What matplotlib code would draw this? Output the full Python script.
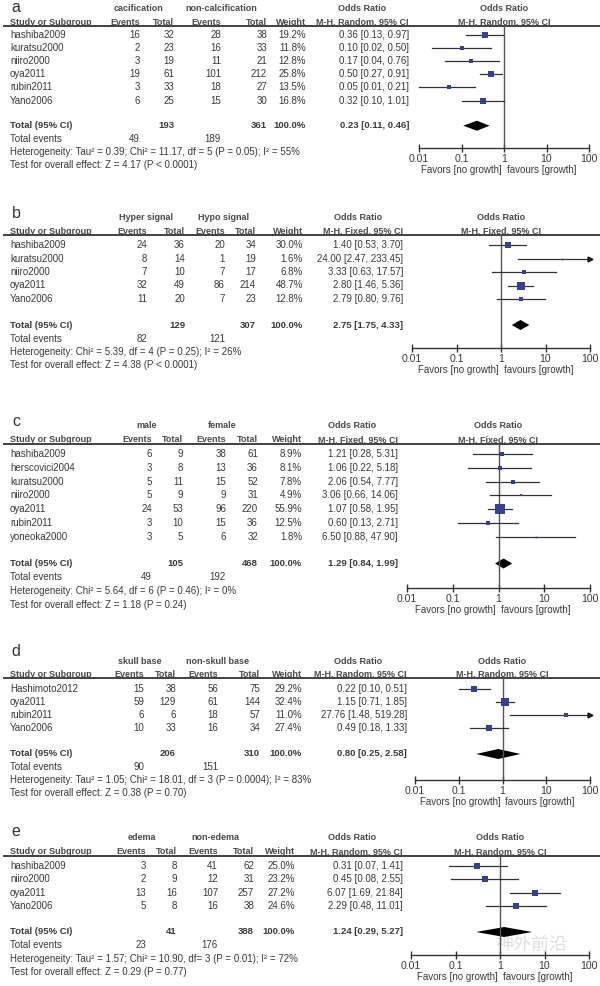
import matplotlib
matplotlib.use('Agg')
import matplotlib.pyplot as plt
import matplotlib.transforms as mtransforms

plt.rcParams['font.family'] = ['Liberation Sans', 'DejaVu Sans']

# ---- panel a: calcification ----
a_groups = ['cacification', 'non-calcification']
a_method = 'M-H, Random, 95% CI'
a_studies = ['hashiba2009', 'kuratsu2000', 'niiro2000', 'oya2011', 'rubin2011', 'Yano2006']
a_ev1 = [16, 2, 3, 19, 3, 6]
a_tot1 = [32, 23, 19, 61, 33, 25]
a_ev2 = [28, 16, 11, 101, 18, 15]
a_tot2 = [38, 33, 21, 212, 27, 30]
a_weight = [19.2, 11.8, 12.8, 25.8, 13.5, 16.8]
a_or = [0.36, 0.10, 0.17, 0.50, 0.05, 0.32]
a_lo = [0.13, 0.02, 0.04, 0.27, 0.01, 0.10]
a_hi = [0.97, 0.50, 0.76, 0.91, 0.21, 1.01]
a_total = [193, 361, 0.23, 0.11, 0.46]
a_events = [49, 189]
a_het = 'Heterogeneity: Tau\u00b2 = 0.39; Chi\u00b2 = 11.17, df = 5 (P = 0.05); I\u00b2 = 55%'
a_test = 'Test for overall effect: Z = 4.17 (P < 0.0001)'

# ---- panel b: signal ----
b_groups = ['Hyper signal', 'Hypo signal']
b_method = 'M-H, Fixed, 95% CI'
b_studies = ['hashiba2009', 'kuratsu2000', 'niiro2000', 'oya2011', 'Yano2006']
b_ev1 = [24, 8, 7, 32, 11]
b_tot1 = [36, 14, 10, 49, 20]
b_ev2 = [20, 1, 7, 86, 7]
b_tot2 = [34, 19, 17, 214, 23]
b_weight = [30.0, 1.6, 6.8, 48.7, 12.8]
b_or = [1.40, 24.00, 3.33, 2.80, 2.79]
b_lo = [0.53, 2.47, 0.63, 1.46, 0.80]
b_hi = [3.70, 233.45, 17.57, 5.36, 9.76]
b_total = [129, 307, 2.75, 1.75, 4.33]
b_events = [82, 121]
b_het = 'Heterogeneity: Chi\u00b2 = 5.39, df = 4 (P = 0.25); I\u00b2 = 26%'
b_test = 'Test for overall effect: Z = 4.38 (P < 0.0001)'

# ---- panel c: sex ----
c_groups = ['male', 'female']
c_method = 'M-H, Fixed, 95% CI'
c_studies = ['hashiba2009', 'herscovici2004', 'kuratsu2000', 'niiro2000', 'oya2011',
             'rubin2011', 'yoneoka2000']
c_ev1 = [6, 3, 5, 5, 24, 3, 3]
c_tot1 = [9, 8, 11, 9, 53, 10, 5]
c_ev2 = [38, 13, 15, 9, 96, 15, 6]
c_tot2 = [61, 36, 52, 31, 220, 36, 32]
c_weight = [8.9, 8.1, 7.8, 4.9, 55.9, 12.5, 1.8]
c_or = [1.21, 1.06, 2.06, 3.06, 1.07, 0.60, 6.50]
c_lo = [0.28, 0.22, 0.54, 0.66, 0.58, 0.13, 0.88]
c_hi = [5.31, 5.18, 7.77, 14.06, 1.95, 2.71, 47.90]
c_total = [105, 468, 1.29, 0.84, 1.99]
c_events = [49, 192]
c_het = 'Heterogeneity: Chi\u00b2 = 5.64, df = 6 (P = 0.46); I\u00b2 = 0%'
c_test = 'Test for overall effect: Z = 1.18 (P = 0.24)'

# ---- panel d: location ----
d_groups = ['skull base', 'non-skull base']
d_method = 'M-H, Random, 95% CI'
d_studies = ['Hashimoto2012', 'oya2011', 'rubin2011', 'Yano2006']
d_ev1 = [15, 59, 6, 10]
d_tot1 = [38, 129, 6, 33]
d_ev2 = [56, 61, 18, 16]
d_tot2 = [75, 144, 57, 34]
d_weight = [29.2, 32.4, 11.0, 27.4]
d_or = [0.22, 1.15, 27.76, 0.49]
d_lo = [0.10, 0.71, 1.48, 0.18]
d_hi = [0.51, 1.85, 519.28, 1.33]
d_total = [206, 310, 0.80, 0.25, 2.58]
d_events = [90, 151]
d_het = 'Heterogeneity: Tau\u00b2 = 1.05; Chi\u00b2 = 18.01, df = 3 (P = 0.0004); I\u00b2 = 83%'
d_test = 'Test for overall effect: Z = 0.38 (P = 0.70)'

# ---- panel e: edema ----
e_groups = ['edema', 'non-edema']
e_method = 'M-H, Random, 95% CI'
e_studies = ['hashiba2009', 'niiro2000', 'oya2011', 'Yano2006']
e_ev1 = [3, 2, 13, 5]
e_tot1 = [8, 9, 16, 8]
e_ev2 = [41, 12, 107, 16]
e_tot2 = [62, 31, 257, 38]
e_weight = [25.0, 23.2, 27.2, 24.6]
e_or = [0.31, 0.45, 6.07, 2.29]
e_lo = [0.07, 0.08, 1.69, 0.48]
e_hi = [1.41, 2.55, 21.84, 11.01]
e_total = [41, 388, 1.24, 0.29, 5.27]
e_events = [23, 176]
e_het = 'Heterogeneity: Tau\u00b2 = 1.57; Chi\u00b2 = 10.90, df= 3 (P = 0.01); I\u00b2 = 72%'
e_test = 'Test for overall effect: Z = 0.29 (P = 0.77)'

ticks = [0.01, 0.1, 1, 10, 100]
tick_labels = ['0.01', '0.1', '1', '10', '100']

W, H = 600, 986
fig = plt.figure(figsize=(6, 9.86), dpi=100)
ax = fig.add_axes([0, 0, 1, 1])
ax.set_xlim(0, W)
ax.set_ylim(H, 0)
ax.axis('off')

TXT = '#3a3a3a'
HDR = '#4a4a4a'
BLUE = '#35408f'
FS = 7.0     # body text
FSH = 6.5    # bold headers
FST = 6.8    # bold total row


def panel(label, lab, groups, method, studies, ev1, tot1, ev2, tot2, weight,
          orr, lo, hi, total, events, het, test, cols, rows, fx):
    c_ev1, c_tot1, c_ev2, c_tot2, c_w, c_or, g1, g2, orh = cols
    y_hdr, y_col, y_line, y0, dy, y_tot, y_axis = rows

    ax.text(lab[0], lab[1], label, fontsize=11.5, color='#333', va='center', ha='left')

    # header
    hk = dict(fontsize=FSH, color=HDR, weight='bold', va='center')
    ax.text(g1, y_hdr, groups[0], ha='center', **hk)
    ax.text(g2, y_hdr, groups[1], ha='center', **hk)
    ax.text(orh, y_hdr, 'Odds Ratio', ha='center', **hk)
    ax.text(10, y_col, 'Study or Subgroup', **hk)
    for x, s in zip([c_ev1, c_tot1, c_ev2, c_tot2, c_w, c_or],
                    ['Events', 'Total', 'Events', 'Total', 'Weight', method]):
        ax.text(x, y_col, s, ha='right', **hk)
    ax.plot([3, W], [y_line, y_line], color='#333', lw=1.3, solid_capstyle='butt')

    # study rows
    for i, st in enumerate(studies):
        y = y0 + i * dy
        ax.text(10, y, st, fontsize=FS, color=TXT, va='center')
        vals = [str(ev1[i]), str(tot1[i]), str(ev2[i]), str(tot2[i]), '%.1f%%' % weight[i],
                '%.2f [%.2f, %.2f]' % (orr[i], lo[i], hi[i])]
        for x, s in zip([c_ev1, c_tot1, c_ev2, c_tot2, c_w, c_or], vals):
            ax.text(x, y, s, fontsize=FS, color=TXT, ha='right', va='center')

    # totals
    ax.text(10, y_tot, 'Total (95% CI)', fontsize=FST, color=TXT, weight='bold', va='center')
    for x, s in zip([c_tot1, c_tot2, c_w, c_or],
                    [str(total[0]), str(total[1]), '100.0%',
                     '%.2f [%.2f, %.2f]' % (total[2], total[3], total[4])]):
        ax.text(x, y_tot, s, fontsize=FST, color=TXT, weight='bold', ha='right', va='center')
    ax.text(10, y_tot + dy, 'Total events', fontsize=FS, color=TXT, va='center')
    ax.text(c_ev1, y_tot + dy, str(events[0]), fontsize=FS, color=TXT, ha='right', va='center')
    ax.text(c_ev2, y_tot + dy, str(events[1]), fontsize=FS, color=TXT, ha='right', va='center')
    ax.text(10, y_tot + 2 * dy, het, fontsize=FS, color=TXT, va='center')
    ax.text(10, y_tot + 3 * dy, test, fontsize=FS, color=TXT, va='center')

    # forest plot
    fa = fig.add_axes([fx[0] / W, 1 - y_axis / H, (fx[1] - fx[0]) / W, (y_axis - y_line) / H])
    fa.set_xscale('log')
    fa.set_xlim(0.01, 100)
    fa.set_ylim(y_axis, y_line)
    fa.patch.set_alpha(0)
    for sp in ['top', 'left', 'right']:
        fa.spines[sp].set_visible(False)
    fa.spines['bottom'].set_color('#333')
    fa.spines['bottom'].set_linewidth(1.0)
    fa.set_yticks([])
    fa.set_xticks(ticks)
    fa.set_xticklabels(tick_labels)
    fa.minorticks_off()
    fa.tick_params(axis='x', direction='inout', length=6, width=1, pad=1,
                   labelsize=FS + 0.6, labelcolor=TXT, color='#333')
    fa.axvline(1, color='#555', lw=1)

    for i in range(len(studies)):
        y = y0 + i * dy
        fa.plot([lo[i], min(hi[i], 100)], [y, y], color='#333', lw=0.9, clip_on=False)
        if hi[i] > 100:
            fa.plot(98, y, '>', color='#111', ms=3.5, clip_on=False)
        fa.plot(orr[i], y, 's', color=BLUE, ms=max(0.9 * weight[i] ** 0.5, 1.2), mew=0)
    fa.fill([total[3], total[2], total[4], total[2]],
            [y_tot, y_tot - 5, y_tot, y_tot + 5], color='black', lw=0)

    tr = mtransforms.blended_transform_factory(fa.transData, ax.transData)
    ax.text(1, y_col, method, transform=tr, ha='center', **hk)
    ax.text(1, y_hdr, 'Odds Ratio', transform=tr, ha='center', **hk)
    ax.text(0.89, y_axis + 22, 'Favors [no growth]', transform=tr, fontsize=FS, color=TXT, ha='right', va='center')
    ax.text(1.15, y_axis + 22, 'favours [growth]', transform=tr, fontsize=FS, color=TXT, ha='left', va='center')


panel('a', (11, 7), a_groups, a_method, a_studies, a_ev1, a_tot1, a_ev2, a_tot2, a_weight,
      a_or, a_lo, a_hi, a_total, a_events, a_het, a_test,
      (140, 174, 221, 267, 306, 409, 138, 221, 362),
      (8.5, 22.5, 26, 35, 13.1, 125.7, 148), (419, 589))
panel('b', (12, 213), b_groups, b_method, b_studies, b_ev1, b_tot1, b_ev2, b_tot2, b_weight,
      b_or, b_lo, b_hi, b_total, b_events, b_het, b_test,
      (147, 185, 225, 256, 303, 403, 146, 224, 358),
      (217.5, 231, 235, 245, 13.5, 325, 348), (412, 590))
panel('c', (12, 422), c_groups, c_method, c_studies, c_ev1, c_tot1, c_ev2, c_tot2, c_weight,
      c_or, c_lo, c_hi, c_total, c_events, c_het, c_test,
      (152, 183, 226, 258, 302, 398, 147, 222, 352),
      (425.5, 440, 444, 454, 13.8, 563.5, 588), (407, 590))
panel('d', (11, 652), d_groups, d_method, d_studies, d_ev1, d_tot1, d_ev2, d_tot2, d_weight,
      d_or, d_lo, d_hi, d_total, d_events, d_het, d_test,
      (144, 176, 218, 260, 302, 407, 140, 218, 358),
      (661, 674.5, 678, 689, 13.1, 754, 780), (415, 590))
panel('e', (11, 832), e_groups, e_method, e_studies, e_ev1, e_tot1, e_ev2, e_tot2, e_weight,
      e_or, e_lo, e_hi, e_total, e_events, e_het, e_test,
      (146, 177, 218, 254, 295, 403, 142, 215, 352),
      (838, 852, 856, 866, 13.4, 932, 955), (411, 589))

# watermark
ax.text(531, 945, '神外前沿', fontsize=13, color='#d8d8d8', alpha=0.8,
        family=['Noto Sans CJK SC'], ha='center', va='center')

fig.savefig('out.png', dpi=100)
